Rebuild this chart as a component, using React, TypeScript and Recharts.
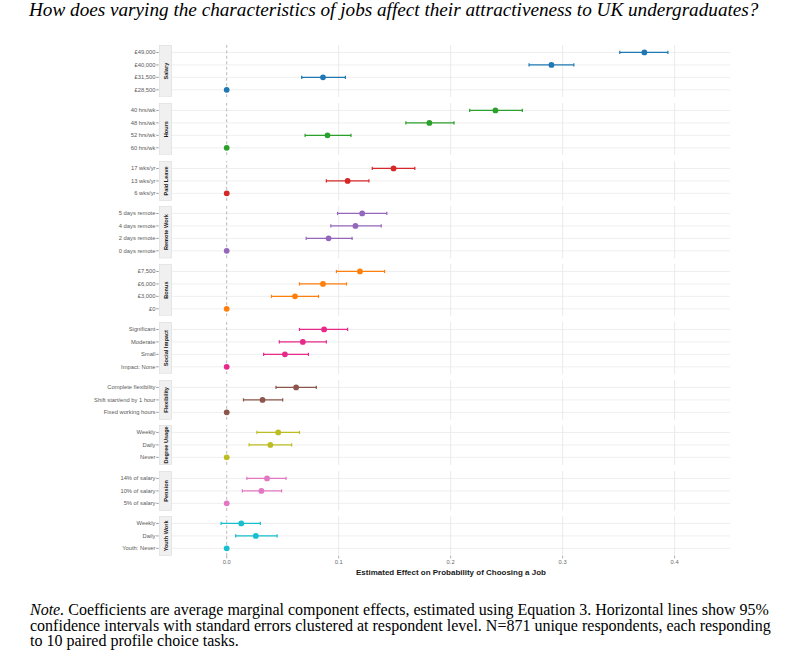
import React from 'react';
import { ScatterChart, Scatter, XAxis, YAxis, ErrorBar, ReferenceLine } from 'recharts';

// ---- data (estimate, 95% CI low, 95% CI high) ----
const salaryLabels = ['£49,000', '£40,000', '£31,500', '£28,500'];
const salaryEst = [0.373, 0.29, 0.086, 0];
const salaryLo = [0.351, 0.27, 0.067, 0];
const salaryHi = [0.394, 0.31, 0.106, 0];

const hoursLabels = ['40 hrs/wk', '48 hrs/wk', '52 hrs/wk', '60 hrs/wk'];
const hoursEst = [0.24, 0.181, 0.09, 0];
const hoursLo = [0.217, 0.16, 0.07, 0];
const hoursHi = [0.264, 0.203, 0.111, 0];

const leaveLabels = ['17 wks/yr', '13 wks/yr', '6 wks/yr'];
const leaveEst = [0.149, 0.108, 0];
const leaveLo = [0.13, 0.089, 0];
const leaveHi = [0.168, 0.127, 0];

const remoteLabels = ['5 days remote', '4 days remote', '2 days remote', '0 days remote'];
const remoteEst = [0.121, 0.115, 0.091, 0];
const remoteLo = [0.099, 0.093, 0.071, 0];
const remoteHi = [0.143, 0.138, 0.112, 0];

const bonusLabels = ['£7,500', '£6,000', '£3,000', '£0'];
const bonusEst = [0.119, 0.086, 0.061, 0];
const bonusLo = [0.098, 0.065, 0.04, 0];
const bonusHi = [0.141, 0.107, 0.082, 0];

const impactLabels = ['Significant', 'Moderate', 'Small', 'Impact: None'];
const impactEst = [0.087, 0.068, 0.052, 0];
const impactLo = [0.065, 0.047, 0.033, 0];
const impactHi = [0.108, 0.089, 0.073, 0];

const flexLabels = ['Complete flexibility', 'Shift start/end by 1 hour', 'Fixed working hours'];
const flexEst = [0.062, 0.032, 0];
const flexLo = [0.044, 0.015, 0];
const flexHi = [0.08, 0.05, 0];

const degreeLabels = ['Weekly', 'Daily', 'Never'];
const degreeEst = [0.046, 0.039, 0];
const degreeLo = [0.027, 0.02, 0];
const degreeHi = [0.065, 0.058, 0];

const pensionLabels = ['14% of salary', '10% of salary', '5% of salary'];
const pensionEst = [0.036, 0.031, 0];
const pensionLo = [0.018, 0.014, 0];
const pensionHi = [0.053, 0.049, 0];

const youthLabels = ['Weekly', 'Daily', 'Youth: Never'];
const youthEst = [0.013, 0.026, 0];
const youthLo = [-0.005, 0.008, 0];
const youthHi = [0.03, 0.045, 0];

const xTicks = [0, 0.1, 0.2, 0.3, 0.4];
const xDomain = [-0.0488, 0.4494];

const panels = [
  { name: 'Salary', color: '#1f77b4', labels: salaryLabels, est: salaryEst, lo: salaryLo, hi: salaryHi },
  { name: 'Hours', color: '#2ca02c', labels: hoursLabels, est: hoursEst, lo: hoursLo, hi: hoursHi },
  { name: 'Paid Leave', color: '#d62728', labels: leaveLabels, est: leaveEst, lo: leaveLo, hi: leaveHi },
  { name: 'Remote Work', color: '#9467bd', labels: remoteLabels, est: remoteEst, lo: remoteLo, hi: remoteHi },
  { name: 'Bonus', color: '#ff7f0e', labels: bonusLabels, est: bonusEst, lo: bonusLo, hi: bonusHi },
  { name: 'Social Impact', color: '#e7298a', labels: impactLabels, est: impactEst, lo: impactLo, hi: impactHi },
  { name: 'Flexibility', color: '#8c564b', labels: flexLabels, est: flexEst, lo: flexLo, hi: flexHi },
  { name: 'Degree Usage', color: '#bcbd22', labels: degreeLabels, est: degreeEst, lo: degreeLo, hi: degreeHi },
  { name: 'Pension', color: '#e377c2', labels: pensionLabels, est: pensionEst, lo: pensionLo, hi: pensionHi },
  { name: 'Youth Work', color: '#17becf', labels: youthLabels, est: youthEst, lo: youthLo, hi: youthHi },
];

// ---- layout ----
const W = 789;
const UNIT = 12.45;
const GAP = 5.6;
const TOP = 45;
const PLOT_LEFT = 172;
const PLOT_RIGHT = 730;
const STRIP_W = 12.4;
const AXIS_H = 26;
const SANS = '"Liberation Sans", Arial, sans-serif';
const SERIF = '"Liberation Serif", "Times New Roman", serif';

const RowTick = (props: any) => {
  const { x, y, payload, labels } = props;
  const label = labels[payload.value];
  const tx = x - STRIP_W - 1;
  return (
    <g>
      <line x1={tx - 2.4} y1={y} x2={tx} y2={y} stroke="#555" strokeWidth={0.6} />
      <text x={tx - 3.2} y={y} textAnchor="end" dominantBaseline="central" fontSize={5.8} fill="#5a5a5a" fontFamily={SANS}>
        {label}
      </text>
    </g>
  );
};

const Panel = ({ p, top, isLast }: any) => {
  const n = p.labels.length;
  const h = (n + 0.2) * UNIT;
  const idxs = p.labels.map((_: string, i: number) => i);
  const data = p.labels.map((label: string, i: number) => ({
    idx: i,
    label,
    est: p.est[i],
    err: [p.est[i] - p.lo[i], p.hi[i] - p.est[i]],
  }));
  const dot = (s: any) => <circle cx={s.cx} cy={s.cy} r={2.9} fill={p.color} />;
  return (
    <div style={{ position: 'absolute', left: 0, top, width: W }}>
      <ScatterChart
        width={W}
        height={h + (isLast ? AXIS_H : 0)}
        margin={{ top: 0, right: W - PLOT_RIGHT, bottom: 0, left: 0 }}
      >
        <XAxis
          type="number"
          dataKey="est"
          domain={xDomain}
          ticks={xTicks}
          allowDataOverflow
          hide={!isLast}
          height={AXIS_H}
          axisLine={false}
          tickSize={2.5}
          tickMargin={1.5}
          tickLine={{ stroke: '#777', strokeWidth: 0.6 }}
          tick={{ fontSize: 5.8, fill: '#6a6a6a', fontFamily: SANS }}
          tickFormatter={(v: number) => v.toFixed(1)}
          label={{
            value: 'Estimated Effect on Probability of Choosing a Job',
            position: 'insideBottom',
            offset: 7,
            style: { fontSize: 8, fontWeight: 700, fill: '#1a1a1a', fontFamily: SANS },
          }}
        />
        <YAxis
          type="number"
          dataKey="idx"
          domain={[-0.6, n - 0.4]}
          ticks={idxs}
          interval={0}
          reversed
          width={PLOT_LEFT}
          axisLine={false}
          tickLine={false}
          tickSize={0}
          tickMargin={0}
          tick={<RowTick labels={p.labels} />}
        />
        {xTicks.filter((t) => t !== 0).map((t) => (
          <ReferenceLine key={'gx' + t} x={t} stroke="#e4e4e4" strokeWidth={0.8} />
        ))}
        {idxs.map((i: number) => (
          <ReferenceLine key={'gy' + i} y={i} stroke="#ebebeb" strokeWidth={0.8} />
        ))}
        <ReferenceLine x={0} stroke="#a8a8a8" strokeWidth={0.8} strokeDasharray="3 2.5" />
        <Scatter data={data} fill={p.color} isAnimationActive={false} shape={dot}>
          <ErrorBar dataKey="err" direction="x" width={1.6} strokeWidth={1.2} stroke={p.color} isAnimationActive={false} />
        </Scatter>
      </ScatterChart>
      <svg
        width={STRIP_W + 1}
        height={h}
        style={{ position: 'absolute', left: PLOT_LEFT - STRIP_W - 0.3, top: 0 }}
      >
        <rect x={0.3} y={0.3} width={STRIP_W} height={h - 0.6} fill="#f0f0f0" stroke="#d6d6d6" strokeWidth={0.5} />
        <text
          x={0}
          y={0}
          transform={`translate(${STRIP_W / 2 + 0.5}, ${h / 2}) rotate(-90)`}
          textAnchor="middle"
          dominantBaseline="central"
          fontSize={5.6}
          fontWeight={700}
          fill="#1a1a1a"
          fontFamily={SANS}
        >
          {p.name}
        </text>
      </svg>
    </div>
  );
};

export default function App() {
  let y = TOP;
  const tops = panels.map((p) => {
    const t = y;
    y += (p.labels.length + 0.2) * UNIT + GAP;
    return t;
  });
  return (
    <div style={{ position: 'absolute', left: 0, top: 0, width: W, height: 660, background: '#fff', overflow: 'hidden' }}>
      <div
        style={{
          position: 'absolute',
          left: 29,
          top: -1,
          fontFamily: SERIF,
          fontStyle: 'italic',
          fontSize: 19.2,
          lineHeight: '22px',
          color: '#000',
          whiteSpace: 'nowrap',
        }}
      >
        How does varying the characteristics of jobs affect their attractiveness to UK undergraduates?
      </div>
      {panels.map((p, i) => (
        <Panel key={p.name} p={p} top={tops[i]} isLast={i === panels.length - 1} />
      ))}
      <div
        style={{
          position: 'absolute',
          left: 30,
          top: 602,
          width: 738,
          fontFamily: SERIF,
          fontSize: 16,
          lineHeight: '15.6px',
          color: '#000',
        }}
      >
        <div style={{ textAlign: 'justify', textAlignLast: 'justify', whiteSpace: 'nowrap' }}>
          <i>Note.</i> Coefficients are average marginal component effects, estimated using Equation 3. Horizontal lines show 95%
        </div>
        <div style={{ textAlign: 'justify', textAlignLast: 'justify', whiteSpace: 'nowrap' }}>
          confidence intervals with standard errors clustered at respondent level. N=871 unique respondents, each responding
        </div>
        <div style={{ whiteSpace: 'nowrap' }}>to 10 paired profile choice tasks.</div>
      </div>
    </div>
  );
}
